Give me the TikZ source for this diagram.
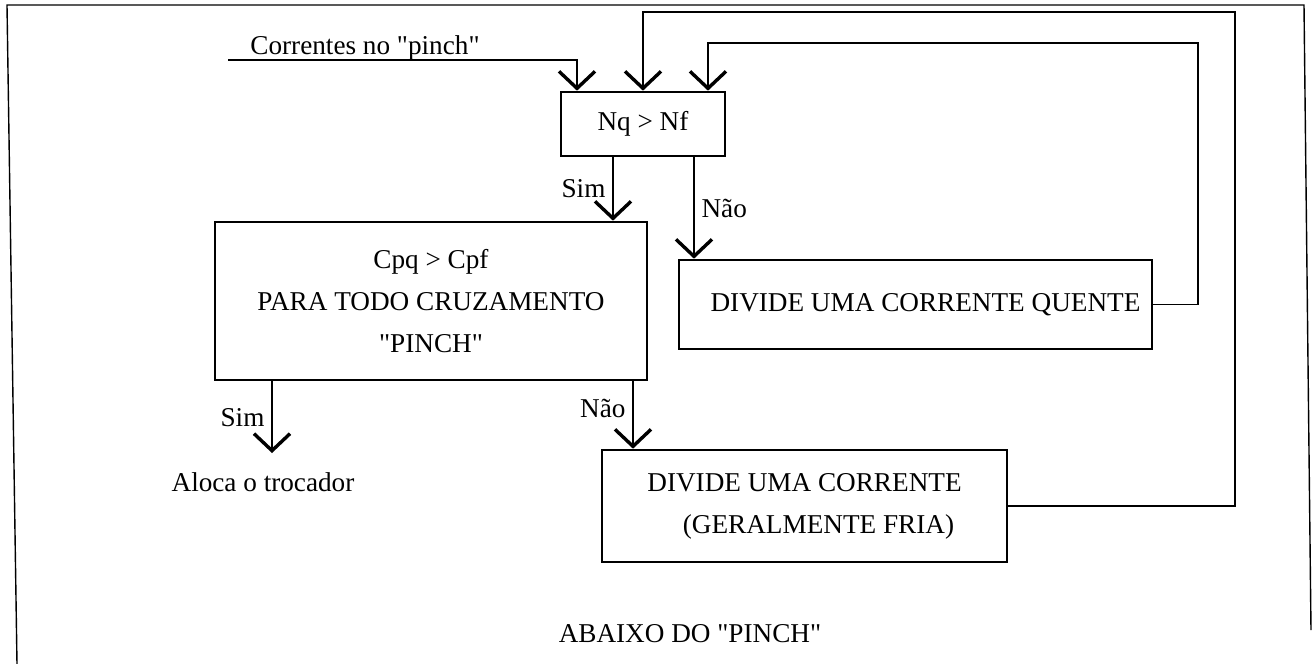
\documentclass[tikz,border=0pt]{standalone}
\usepackage{fontspec}
\setmainfont{Liberation Serif}[Ligatures=TeXOff]
\usetikzlibrary{arrows.meta, positioning}

\begin{document}
\begin{tikzpicture}[x=0.5pt, y=-0.5pt, font=\fontsize{13.6}{21}\selectfont,
  caixa/.style={draw, line width=1.3pt, align=center, inner sep=0pt},
  fluxo/.style={line width=0.9pt, -{Straight Barb[length=8.5pt, width=18pt, line width=1.7pt]}}]
\useasboundingbox (0,0) rectangle (1313,664);

% Moldura
\draw[line width=0.7pt] (17,664) -- (7,5) -- (1304,5) -- (1311,630);

% Caixas
\node[caixa, minimum width=82pt, minimum height=32pt] (nq) at (643,124) {Nq > Nf};
\node[caixa, minimum width=216pt, minimum height=79pt] (cpq) at (431,301) {Cpq > Cpf\\PARA TODO CRUZAMENTO\\"PINCH"};
\node[caixa, minimum width=236.5pt, minimum height=44.5pt] (quente) at (915.5,304.5) {\hspace*{10pt}DIVIDE UMA CORRENTE QUENTE};
\node[caixa, minimum width=202.5pt, minimum height=56pt] (fria) at (804.5,506) {DIVIDE UMA CORRENTE\\\hspace*{14pt}(GERALMENTE FRIA)};

% Textos
\node (corr) at (365,48) {Correntes no "pinch"};
\node (aloca) at (263,482) {Aloca o trocador};
\node (abaixo) at (690,634) {ABAIXO DO "PINCH"};

% Pontos das ligacoes
\coordinate (src) at (228,60);
\coordinate (in1) at (577,60);
\coordinate (o1) at (643,12);
\coordinate (o2) at (1235,12);
\coordinate (i1) at (708,43);
\coordinate (i2) at (1198,43);
\coordinate (s1) at (613,0);
\coordinate (n1) at (694,0);
\coordinate (s2) at (272,453);
\coordinate (n2) at (633,0);

% Ligacoes
\draw[fluxo] (src) -- (in1) -- (in1 |- nq.north);
\draw[fluxo] (fria.east) -- (fria.east -| o2) -- (o2) -- (o1) -- (o1 |- nq.north);
\draw[fluxo] (quente.east) -- (quente.east -| i2) -- (i2) -- (i1) -- (i1 |- nq.north);
\draw[fluxo] (s1 |- nq.south) -- node[left] {Sim} (s1 |- cpq.north);
\draw[fluxo] (n1 |- nq.south) -- node[right] {Não} (n1 |- quente.north);
\draw[fluxo] (s2 |- cpq.south) -- node[left] {Sim} (s2);
\draw[fluxo] (n2 |- cpq.south) -- node[left, pos=0.4] {Não} (n2 |- fria.north);
\end{tikzpicture}
\end{document}
